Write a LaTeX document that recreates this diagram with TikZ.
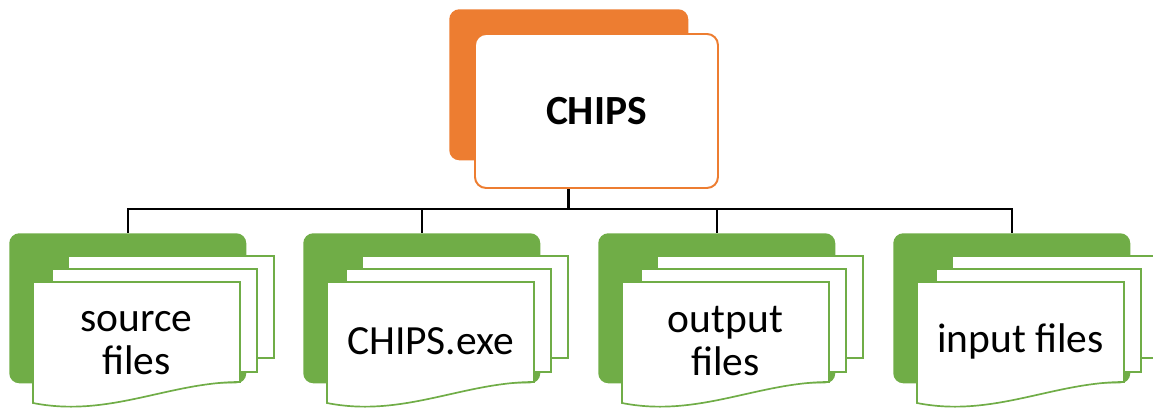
\documentclass[tikz,border=0pt]{standalone}
\usepackage{fontspec}
\setmainfont{Carlito}
\definecolor{chipsorange}{RGB}{237,125,49}
\definecolor{filegreen}{RGB}{112,173,71}
\newlength\px
\setlength\px{0.025cm}
\tikzset{
  toptab/.style={fill=chipsorange, rounded corners=10\px, anchor=north west, inner sep=0pt,
    minimum width=239\px, minimum height=151\px},
  topcard/.style={fill=white, draw=chipsorange, line width=1.4pt, rounded corners=11\px,
    anchor=north west, inner sep=0pt, minimum width=243\px, minimum height=154\px,
    font=\fontsize{29.5}{34}\selectfont\bfseries},
  filetab/.style={fill=filegreen, rounded corners=10\px, anchor=north west, inner sep=0pt,
    minimum width=237\px, minimum height=150\px},
  sheet/.style={fill=white, draw=filegreen, line width=1.2pt},
  filelabel/.style={font=\fontsize{29.5}{31}\selectfont, align=center, inner sep=0pt},
  link/.style={draw=black, line width=1.5pt}
}
\begin{document}
\begin{tikzpicture}[x=0.025cm, y=-0.025cm]
\useasboundingbox (0,0) rectangle (1153,408);
\clip (0,0) rectangle (1153,408);
% top card
\node[toptab] (chipsback) at (449,9) {};
\node[topcard] (chips) at (474,33) {CHIPS};
% file stacks
\foreach \x/\nm/\ly/\txt in {9/src/343/{source\\files}, 303/exe/341/{CHIPS.exe},
                             598/out/341/{output\\files}, 893/inp/341/{input files}} {
  \begin{scope}[xshift=\x\px]
    \node[filetab] (\nm) at (0,233) {};
    \draw[sheet] (59,256) rectangle (265,358);
    \draw[sheet] (43,269) rectangle (248,372);
    \draw[sheet] (24,282) -- (231,282) -- (231,382)
      .. controls (160,382) and (100,418) .. (24,403) -- cycle;
    \node[filelabel] (\nm-txt) at (127.5,\ly) {\txt};
  \end{scope}
}
% tree lines
\coordinate (split) at (568.5,209);
\draw[link] (chips.south -| split) -- (split);
\foreach \nm in {src,exe,out,inp}
  \draw[link] (split) -| (\nm.north);
\end{tikzpicture}
\end{document}
